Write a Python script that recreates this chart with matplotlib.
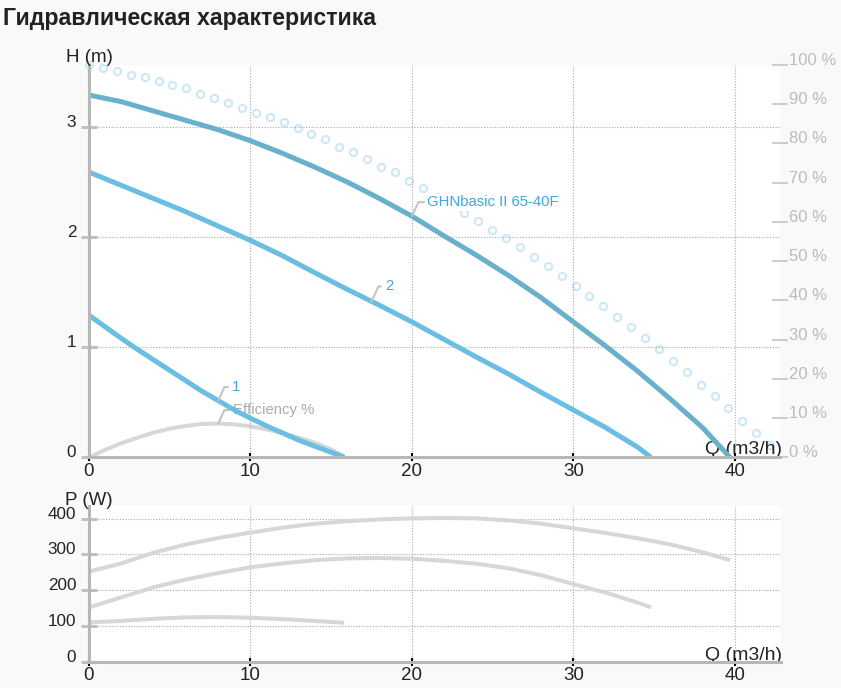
import numpy as np
import matplotlib
matplotlib.use('Agg')
import matplotlib.pyplot as plt

plt.rcParams['font.family'] = ['Liberation Sans', 'DejaVu Sans']

# head curves H(Q), m
q_ghn = [0, 2, 4, 6, 8, 10, 12, 14, 16, 18, 20, 22, 24, 26, 28, 30, 32, 34, 36, 38, 39.7]
h_ghn = [3.29, 3.23, 3.145, 3.06, 2.975, 2.875, 2.76, 2.635, 2.50, 2.35, 2.19, 2.01, 1.835,
         1.65, 1.45, 1.23, 1.01, 0.78, 0.53, 0.27, 0.0]
q_s2 = [0, 2, 4, 6, 8, 10, 12, 14, 16, 18, 20, 22, 24, 26, 28, 30, 32, 34, 34.8]
h_s2 = [2.59, 2.47, 2.35, 2.23, 2.10, 1.97, 1.83, 1.675, 1.525, 1.38, 1.23, 1.07, 0.91, 0.755,
        0.59, 0.43, 0.27, 0.09, 0.0]
q_s1 = [0, 1, 2, 3, 4, 5, 6, 7, 8, 9, 10, 11, 12, 13, 14, 15, 15.8]
h_s1 = [1.29, 1.185, 1.08, 0.98, 0.885, 0.79, 0.695, 0.60, 0.515, 0.43, 0.355, 0.285, 0.22,
        0.155, 0.10, 0.045, 0.0]

# efficiency, %
q_eff = [0, 1, 2, 3, 4, 5, 6, 7, 8, 9, 10, 11, 12, 13, 14, 15, 15.8]
eff = [0, 1.9, 3.6, 5.0, 6.3, 7.3, 8.0, 8.5, 8.6, 8.4, 7.9, 7.1, 6.2, 5.0, 3.7, 2.0, 0.3]

# dotted curve, %
q_dot = [0, 0.86, 1.72, 2.58, 3.44, 4.31, 5.17, 6.03, 6.89, 7.75, 8.61, 9.47, 10.33, 11.19,
         12.05, 12.92, 13.78, 14.64, 15.50, 16.36, 17.22, 18.08, 18.94, 19.80, 20.66, 21.53,
         22.39, 23.25, 24.11, 24.97, 25.83, 26.69, 27.55, 28.41, 29.27, 30.14, 31.00, 31.86,
         32.72, 33.58, 34.44, 35.30, 36.16, 37.02, 37.88, 38.75, 39.61, 40.47, 41.33, 42.19]
dot = [100.0, 99.2, 98.5, 97.5, 96.9, 95.9, 94.9, 94.1, 92.6, 91.7, 90.4, 89.1, 87.8, 86.7,
       85.5, 83.9, 82.3, 81.1, 79.2, 77.7, 76.0, 74.1, 72.6, 70.4, 68.7, 66.3, 64.1, 62.4,
       60.3, 57.9, 55.8, 53.6, 51.1, 48.8, 46.3, 43.7, 41.2, 38.6, 35.7, 33.1, 30.3, 27.5,
       24.6, 21.8, 18.5, 15.7, 12.6, 9.3, 6.2, 3.1]

# power P(Q), W
q_p3 = [0, 2, 4, 6, 8, 10, 12, 14, 16, 18, 20, 22, 24, 26, 28, 30, 32, 34, 36, 38, 39.7]
p3 = [252, 275, 305, 328, 346, 361, 375, 386, 393, 398, 401, 402, 401, 395, 386, 373, 360,
      345, 328, 306, 284]
q_p2 = [0, 2, 4, 6, 8, 10, 12, 14, 16, 18, 20, 22, 24, 26, 28, 30, 32, 34, 34.8]
p2 = [152, 180, 208, 230, 248, 264, 275, 284, 289, 290, 288, 282, 274, 261, 242, 217, 193,
      165, 152]
q_p1 = [0, 2, 4, 6, 8, 10, 12, 14, 15.8]
p1 = [110, 114, 120, 124, 125, 123, 119, 114, 109]

x_ticks = [0, 10, 20, 30, 40]
h_ticks = [0, 1, 2, 3]
pct_ticks = [0, 10, 20, 30, 40, 50, 60, 70, 80, 90, 100]
p_ticks = [0, 100, 200, 300, 400]

c_ghn = '#68b0cc'
c_cur = '#6abee2'
c_lab = '#3ea9dd'
c_gray = '#d7d7d7'
c_axis = '#b7b7b7'
c_text = '#222222'

fig = plt.figure(figsize=(8.41, 6.88), dpi=100, facecolor='#f9f9f9')

fig.text(3 / 841, 1 - 25 / 688, 'Гидравлическая характеристика', fontsize=16.7,
         fontweight='bold', color=c_text, va='baseline', ha='left')


def style_axis(a, xmax, ymax):
    a.set_xlim(0, xmax)
    a.set_ylim(0, ymax)
    for s in ['top', 'right']:
        a.spines[s].set_visible(False)
    for s in ['left', 'bottom']:
        a.spines[s].set_color(c_axis)
        a.spines[s].set_linewidth(2.2)
    a.set_xticks(x_ticks)
    a.tick_params(axis='x', direction='inout', length=5.5, width=1.5, color='black',
                  labelsize=13.5, labelcolor=c_text, pad=1.2)
    a.tick_params(axis='y', direction='inout', length=12, width=2.2, color='#c0c0c0',
                  labelsize=12.3, labelcolor=c_text, pad=3.2)
    a.grid(True, linestyle=(0, (1, 1.5)), color='#a8a8a8', linewidth=0.8)


def callout(a, xy, coords, text, color, dx, dy, z=3, box=None):
    a.annotate(text, xy=xy, xycoords=coords, xytext=(dx, dy), textcoords='offset pixels',
               ha='left', va='center', fontsize=10.7, color=color, zorder=z, bbox=box,
               arrowprops=dict(arrowstyle='-', color='#c4c4c4', lw=1.5, shrinkA=1, shrinkB=0,
                               relpos=(0, 0.5),
                               connectionstyle='angle,angleA=0,angleB=65,rad=0'))


# upper chart: head and efficiency
ax = fig.add_axes([89 / 841, 1 - 457.3 / 688, 691 / 841, 392.3 / 688])
style_axis(ax, 42.8, 3.563)
ax.set_yticks(h_ticks)
for lab in ax.get_yticklabels():
    lab.set_va('baseline')

ax2 = ax.twinx()
ax2.set_ylim(0, 100)
for s in ax2.spines.values():
    s.set_visible(False)
ax2.set_yticks(pct_ticks)
ax2.set_yticklabels([f'{v} %' for v in pct_ticks])
ax2.tick_params(axis='y', direction='inout', length=11, width=1.5, color='#cdcdcd',
                labelsize=12, labelcolor='#bbbbbb', pad=1)
for lab in ax2.get_yticklabels():
    lab.set_va('baseline')

ax.set_zorder(2)
ax2.set_zorder(1)
ax.patch.set_visible(False)
ax2.patch.set_visible(True)
ax2.patch.set_facecolor('white')

ax2.plot(q_dot, dot, linestyle='none', marker='o', ms=5.2, mfc='none', mec='#cde8f5',
         mew=1.5, clip_on=False, zorder=4)
ax2.plot(q_eff, eff, color=c_gray, lw=2.9, solid_capstyle='butt')

ax.plot(q_ghn, h_ghn, color=c_ghn, lw=3.6, solid_capstyle='butt')
ax.plot(q_s2, h_s2, color=c_cur, lw=3.6, solid_capstyle='butt')
ax.plot(q_s1, h_s1, color=c_cur, lw=3.6, solid_capstyle='butt')

callout(ax, (20, np.interp(20, q_ghn, h_ghn)), ax.transData, 'GHNbasic II 65-40F', c_lab,
        15, 14, box=dict(boxstyle='square,pad=0.1', fc='white', ec='none'))
callout(ax, (17.5, np.interp(17.5, q_s2, h_s2)), ax.transData, '2', c_lab, 13.5, 15)
callout(ax, (8, np.interp(8, q_s1, h_s1)), ax.transData, '1', c_lab, 14, 13.5)
callout(ax, (8, np.interp(8, q_eff, eff)), ax2.transData, 'Efficiency %', '#aaaaaa',
        14.5, 13.5, z=1.9)

ax.annotate('H (m)', xy=(0, 1), xycoords='axes fraction', xytext=(0, 3),
            textcoords='offset pixels', ha='center', va='baseline', fontsize=13.5, color=c_text)
ax.annotate('Q (m3/h)', xy=(1, 0), xycoords='axes fraction', xytext=(2, 3),
            textcoords='offset pixels', ha='right', va='baseline', fontsize=14, color=c_text,
            zorder=1)

# lower chart: power
axp = fig.add_axes([89 / 841, 1 - 661.7 / 688, 692 / 841, 155.7 / 688])
axp.set_facecolor('white')
style_axis(axp, 42.85, 435.5)
axp.set_yticks(p_ticks)
for lab in axp.get_yticklabels():
    lab.set_va('baseline')

axp.plot(q_p3, p3, color=c_gray, lw=2.9, solid_capstyle='butt')
axp.plot(q_p2, p2, color=c_gray, lw=2.9, solid_capstyle='butt')
axp.plot(q_p1, p1, color=c_gray, lw=2.9, solid_capstyle='butt')

axp.annotate('P (W)', xy=(0, 1), xycoords='axes fraction', xytext=(0, 1),
             textcoords='offset pixels', ha='center', va='baseline', fontsize=13.5, color=c_text)
axp.annotate('Q (m3/h)', xy=(1, 0), xycoords='axes fraction', xytext=(1, 2),
             textcoords='offset pixels', ha='right', va='baseline', fontsize=14, color=c_text,
             zorder=1)

fig.savefig('out.png', dpi=100)
